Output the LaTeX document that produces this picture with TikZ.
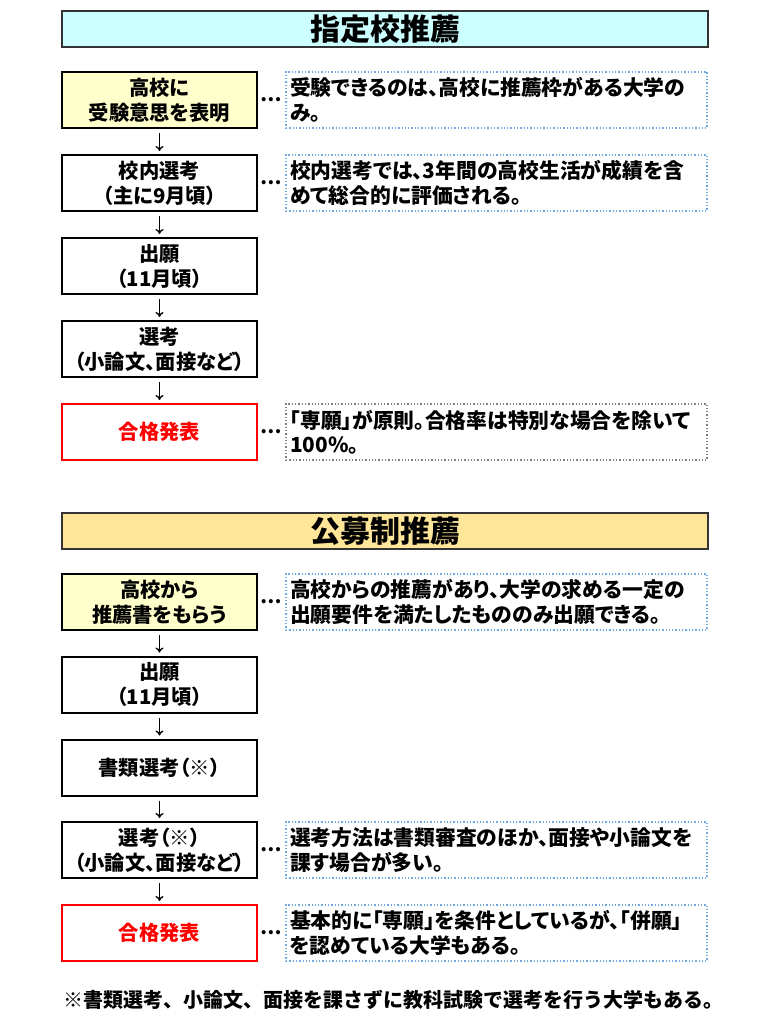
\documentclass[tikz,border=0pt]{standalone}
\usepackage{fontspec}
\setmainfont{Noto Sans CJK JP}[RawFeature=+palt]
\newfontfamily\fullwidthjp{Noto Sans CJK JP}
\usetikzlibrary{arrows.meta}
\definecolor{hdrcyan}{HTML}{CCFFFF}
\definecolor{hdrorange}{HTML}{FFE699}
\definecolor{boxyellow}{HTML}{FFFFCC}
\definecolor{dotblue}{HTML}{6FA8DC}
\definecolor{dotgray}{HTML}{808080}
\definecolor{passred}{HTML}{FF0000}
\tikzset{
  hdr/.style={draw=black!80, line width=1.5pt, minimum width=646pt, minimum height=36pt, inner sep=0pt,
    font=\fontsize{30}{32}\selectfont\bfseries},
  stepbox/.style={draw=black, line width=2pt, minimum width=195pt, minimum height=56pt, inner sep=0pt,
    text width=193pt, align=center, font=\fontsize{20.3}{25}\selectfont\bfseries},
  startbox/.style={stepbox, fill=boxyellow},
  passbox/.style={stepbox, draw=passred, text=passred},
  notebox/.style={draw=dotblue, dotted, line width=1.3pt, minimum width=421pt, minimum height=56pt,
    text width=413pt, inner sep=4pt, align=left, font=\fontsize{20.8}{24.5}\selectfont\bfseries},
  graynote/.style={notebox, draw=dotgray},
  dots/.style={font=\fontsize{19}{24}\selectfont\bfseries, inner sep=0pt},
  flow/.style={draw=black, line width=1.3pt, -{To[length=5pt,width=8pt]}, shorten >=3pt, shorten <=4pt},
  foot/.style={font=\fullwidthjp\fontsize{20}{24}\selectfont\bfseries, inner sep=0pt}
}
\begin{document}
\begin{tikzpicture}[x=1pt,y=-1pt]
\useasboundingbox[fill=white] (0,0) rectangle (777,1024);
% Section 1
\node[hdr, fill=hdrcyan] (h1) at (385,29) {指定校推薦};
\node[startbox] (a1) at (159.5,100) {高校に\\受験意思を表明};
\node[stepbox] (a2) at (159.5,183) {校内選考\\（主に9月頃）};
\node[stepbox] (a3) at (159.5,266) {出願\\（11月頃）};
\node[stepbox] (a4) at (159.5,349) {選考\\（小論文、面接など）};
\node[passbox] (a5) at (159.5,432) {合格発表};
\node[notebox] (n1) at (496.5,100) {受験できるのは、高校に推薦枠がある大学の\\み。};
\node[notebox] (n2) at (496.5,183) {校内選考では、3年間の高校生活が成績を含\\めて総合的に評価される。};
\node[graynote] (n5) at (496.5,432) {「専願」が原則。合格率は特別な場合を除いて\\100\%。};
\node[dots] (d1) at (271,100) {…};
\node[dots] (d2) at (271,183) {…};
\node[dots] (d5) at (271,432) {…};
\draw[flow] (a1) -- (a2);
\draw[flow] (a2) -- (a3);
\draw[flow] (a3) -- (a4);
\draw[flow] (a4) -- (a5);
% Section 2
\node[hdr, fill=hdrorange] (h2) at (385,531) {公募制推薦};
\node[startbox] (b1) at (159.5,602) {高校から\\推薦書をもらう};
\node[stepbox] (b2) at (159.5,684.5) {出願\\（11月頃）};
\node[stepbox] (b3) at (159.5,767.5) {書類選考（※）};
\node[stepbox] (b4) at (159.5,850) {選考（※）\\（小論文、面接など）};
\node[passbox] (b5) at (159.5,933) {合格発表};
\node[notebox] (m1) at (496.5,602) {高校からの推薦があり、大学の求める一定の\\出願要件を満たしたもののみ出願できる。};
\node[notebox] (m4) at (496.5,850) {選考方法は書類審査のほか、面接や小論文を\\課す場合が多い。};
\node[notebox] (m5) at (496.5,933) {基本的に「専願」を条件としているが、「併願」\\を認めている大学もある。};
\node[dots] (e1) at (271,602) {…};
\node[dots] (e4) at (271,850) {…};
\node[dots] (e5) at (271,933) {…};
\draw[flow] (b1) -- (b2);
\draw[flow] (b2) -- (b3);
\draw[flow] (b3) -- (b4);
\draw[flow] (b4) -- (b5);
\node[foot] (fn) at (393,1000) {※書類選考、小論文、面接を課さずに教科試験で選考を行う大学もある。};
\end{tikzpicture}
\end{document}
